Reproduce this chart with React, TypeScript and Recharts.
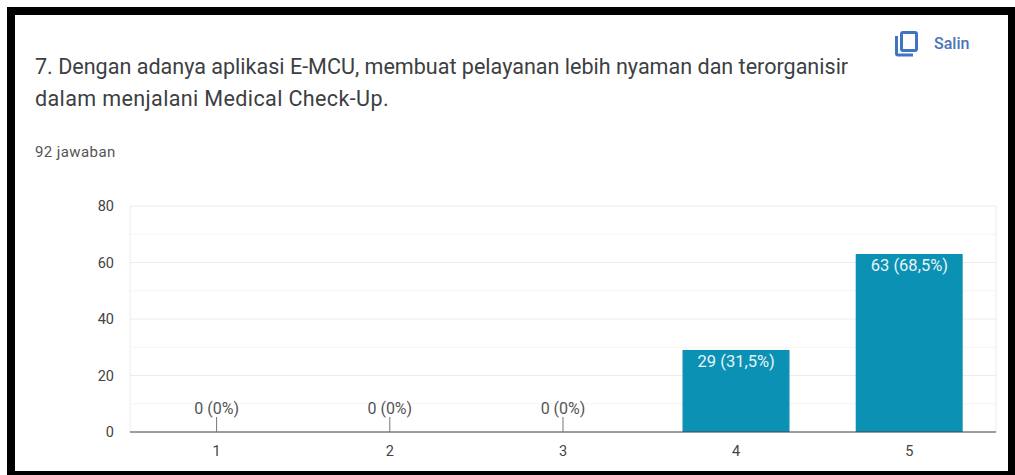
import React from 'react';
import { ComposedChart, Bar, Line, XAxis, YAxis, CartesianGrid, LabelList } from 'recharts';

const categories = ['1', '2', '3', '4', '5'];
const counts = [0, 0, 0, 29, 63];
const barLabels = ['0 (0%)', '0 (0%)', '0 (0%)', '29 (31,5%)', '63 (68,5%)'];
const majorTicks = [0, 20, 40, 60, 80];
const minorTicks = [10, 30, 50, 70];

const chartData = categories.map((name, i) => ({ name, count: counts[i], label: barLabels[i] }));

const FONT = 'Roboto, sans-serif';

// zero rows get a short leader line, the others sit inside the bar
function BarLabel(props: any) {
  const { x, y, value } = props;
  if (String(value).startsWith('0 ')) {
    return (
      <g>
        <line x1={x} x2={x} y1={y - 15} y2={y} stroke="#777" strokeWidth={1} />
        <text x={x} y={y - 18} textAnchor="middle" fontSize={16} fill="#555" fontFamily={FONT}>
          {value}
        </text>
      </g>
    );
  }
  return (
    <text x={x} y={y + 17} textAnchor="middle" fontSize={16.5} fill="#e8f4f7" fontFamily={FONT}>
      {value}
    </text>
  );
}

export default function App() {
  return (
    <div style={{ position: 'absolute', left: 0, top: 0, width: 1015, height: 475, background: '#fff', overflow: 'hidden', fontFamily: FONT }}>
      <div style={{ position: 'absolute', left: 7, top: 7, width: 1008, height: 468, background: '#000' }} />
      <div style={{ position: 'absolute', left: 15, top: 15, width: 993, height: 456, background: '#fff' }} />

      <div style={{ position: 'absolute', left: 35, top: 51, width: 860, fontSize: 21.55, lineHeight: '32px', color: '#3c4043' }}>
        7. Dengan adanya aplikasi E-MCU, membuat pelayanan lebih nyaman dan terorganisir
        <br />
        <span style={{ letterSpacing: 0.36 }}>dalam menjalani Medical Check-Up.</span>
      </div>
      <div style={{ position: 'absolute', left: 35, top: 143, fontSize: 15, letterSpacing: 0.4, lineHeight: '18px', color: '#555' }}>92 jawaban</div>

      <svg style={{ position: 'absolute', left: 895, top: 31 }} width={24} height={27} viewBox="0 0 24 27">
        <rect x="6.5" y="1.5" width="15" height="18" rx="1.5" fill="none" stroke="#3f74c4" strokeWidth="3" />
        <path d="M1.5 5 V22.5 a1.5 1.5 0 0 0 1.5 1.5 H18" fill="none" stroke="#3f74c4" strokeWidth="3" />
      </svg>
      <div style={{ position: 'absolute', left: 934, top: 34, fontSize: 16, lineHeight: '20px', fontWeight: 500, color: '#4a75b5' }}>Salin</div>

      <div style={{ position: 'absolute', left: 0, top: 0 }}>
        <ComposedChart
          width={1015}
          height={475}
          data={chartData}
          margin={{ top: 206, right: 19, bottom: 0, left: 0 }}
          barCategoryGap="19%"
        >
          <CartesianGrid vertical={false} horizontalValues={minorTicks} stroke="#f5f5f5" />
          <CartesianGrid vertical={false} horizontalValues={majorTicks} stroke="#ececec" />
          <CartesianGrid horizontal={false} verticalPoints={[130, 996]} stroke="#ececec" />
          <XAxis
            dataKey="name"
            height={43}
            tickLine={false}
            axisLine={{ stroke: '#444', strokeWidth: 1 }}
            tick={{ fill: '#444', fontSize: 14.5, fontFamily: FONT }}
            tickMargin={8}
          />
          <YAxis
            width={130}
            domain={[0, 80]}
            ticks={majorTicks}
            tickLine={false}
            axisLine={false}
            tick={{ fill: '#444', fontSize: 14.5, fontFamily: FONT }}
            tickMargin={10}
          />
          <Bar dataKey="count" fill="#0b91b3" isAnimationActive={false} />
          <Line dataKey="count" stroke="none" dot={false} activeDot={false} legendType="none" isAnimationActive={false}>
            <LabelList dataKey="label" content={BarLabel} />
          </Line>
        </ComposedChart>
      </div>
    </div>
  );
}
